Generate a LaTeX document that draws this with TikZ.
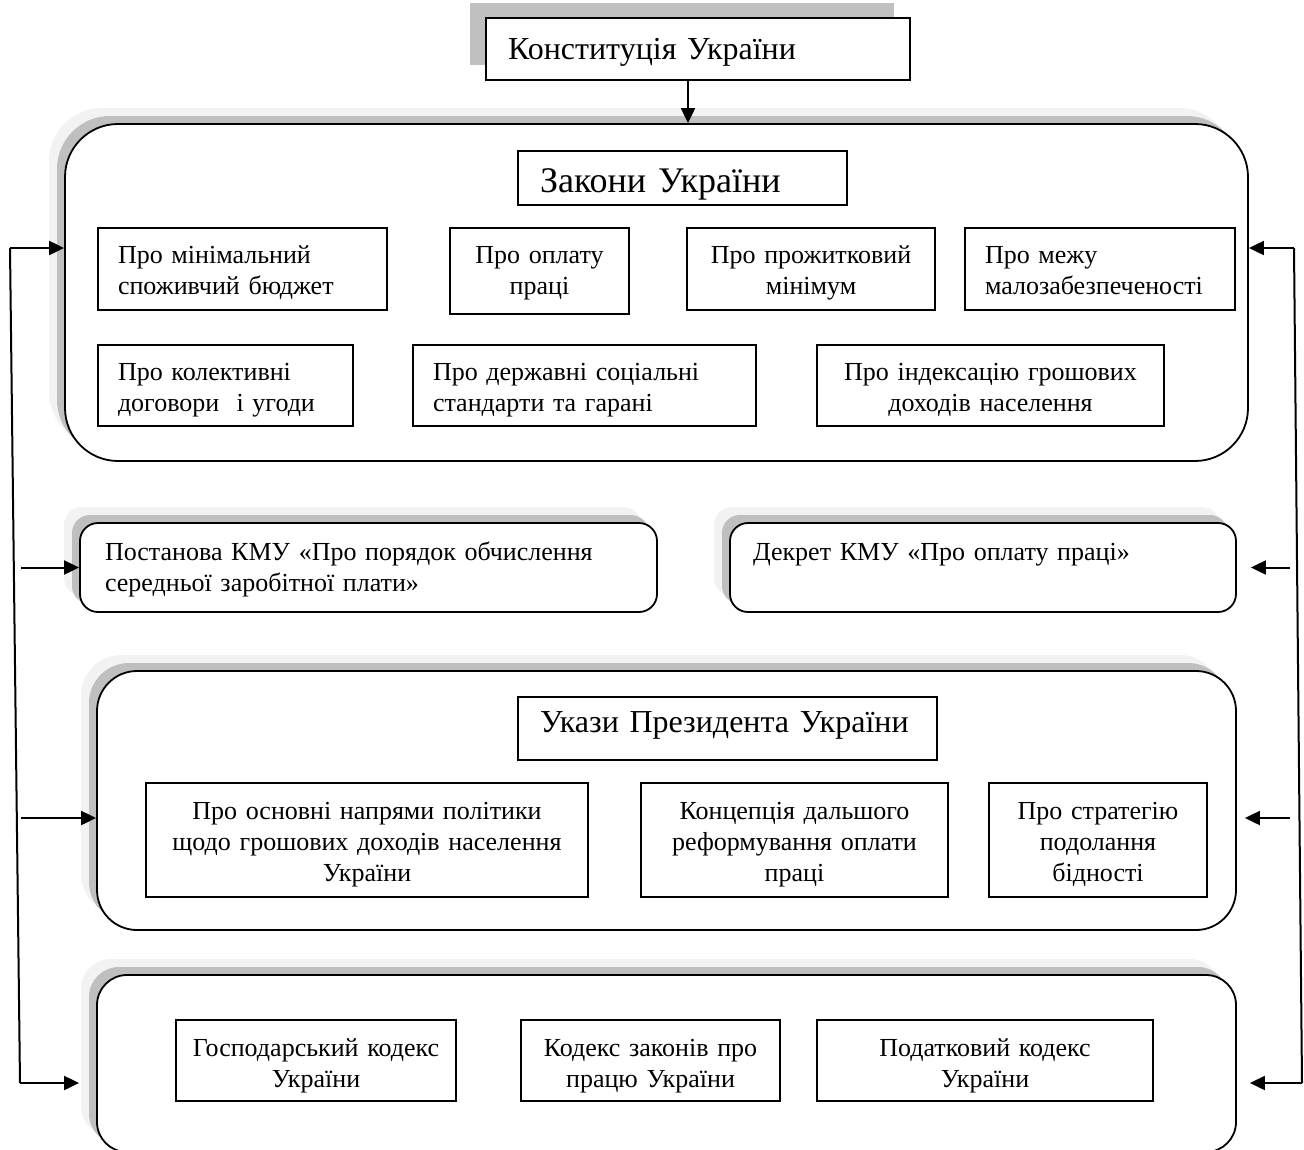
\documentclass[tikz,border=0pt]{standalone}
\usepackage{fontspec}
\setmainfont{Liberation Serif}
\usetikzlibrary{arrows.meta,calc}
\definecolor{shadeDark}{HTML}{BFBFBF}
\definecolor{shadeLight}{HTML}{F2F2F2}
\definecolor{shadeTitle}{HTML}{C0C0C0}
% extra height above the first line / depth below the last line of a box text
\newlength\textdrop
\newlength\textlift
\begin{document}
\begin{tikzpicture}[x=1pt,y=-1pt,
  every node/.style={font=\fontsize{26}{31}\selectfont},
  textdrop/.code={\setlength\textdrop{#1}},
  textlift/.code={\setlength\textlift{#1}},
  % large rounded group frames with a two-tone shadow to the upper left
  frame/.style={draw, line width=1.8pt, rounded corners=#1, fill=white, inner sep=0pt,
    preaction={fill=shadeLight, draw=none, transform canvas={xshift=-16pt,yshift=16pt}},
    preaction={fill=shadeDark, draw=none, transform canvas={xshift=-8pt,yshift=8pt}}},
  % plain rectangular boxes
  pbox/.style={draw, line width=1.8pt, fill=white, inner ysep=0pt,
    textdrop=8pt, textlift=0pt,
    execute at begin node={\rule{0pt}{\dimexpr\ht\strutbox+\textdrop\relax}},
    execute at end node={\rule[-\dimexpr\dp\strutbox+\textlift\relax]{0pt}{1pt}}},
  lbox/.style={pbox, align=left, inner xsep=20pt},
  cbox/.style={pbox, align=center, inner xsep=4pt},
  title/.style={font=\fontsize{32}{38}\selectfont},
  arr/.style={line width=2pt, -{Triangle[length=15pt,width=14pt]}},
  link/.style={line width=2pt}
]
\useasboundingbox (0,0) rectangle (1304,1149);
\clip (0,0) rectangle (1304,1149);

% Constitution
\node[pbox, title, align=left, inner xsep=22pt, text width=380pt, minimum height=62pt,
  textdrop=6pt,
  preaction={fill=shadeTitle, draw=none, transform canvas={xshift=-16pt,yshift=15pt}}]
  (const) at (698,49) {Конституція України};

% Laws of Ukraine
\node[frame=53, minimum width=1183pt, minimum height=337pt] (laws) at (656.5,292.5) {};
\node[pbox, font=\fontsize{36}{42}\selectfont, align=left, inner xsep=22pt, text width=285pt,
  minimum height=54pt, textdrop=12pt] (lawsT) at (682.5,178) {Закони України};
\node[lbox, text width=249pt, minimum height=82pt] (l1) at (242.5,269)
  {Про мінімальний\\споживчий бюджет};
\node[cbox, text width=171pt, minimum height=86pt, textdrop=4pt] (l2) at (539.5,271)
  {Про оплату\\праці};
\node[cbox, text width=240pt, minimum height=82pt] (l3) at (811,269)
  {Про прожитковий\\мінімум};
\node[lbox, text width=230pt, minimum height=82pt] (l4) at (1100,269)
  {Про межу\\малозабезпеченості};
\node[lbox, text width=215pt, minimum height=81pt] (l5) at (225.5,385.5)
  {Про колективні\\договори \ і угоди};
\node[lbox, text width=303pt, minimum height=81pt] (l6) at (584.5,385.5)
  {Про державні соціальні\\стандарти та гарані};
\node[cbox, text width=339pt, minimum height=81pt] (l7) at (990.5,385.5)
  {Про індексацію грошових\\доходів населення};

% Cabinet of Ministers acts
\node[frame=18, lbox, line width=1.8pt, inner xsep=25pt, text width=527pt, minimum height=89pt,
  textdrop=5pt] (post) at (368.5,567.5)
  {Постанова КМУ «Про порядок обчислення\\середньої заробітної плати»};
\node[frame=18, lbox, line width=1.8pt, inner xsep=23pt, text width=460pt, minimum height=89pt,
  textdrop=5pt] (dekr) at (983,567.5)
  {Декрет КМУ «Про оплату праці»\\\mbox{}};

% Presidential decrees
\node[frame=40, minimum width=1139pt, minimum height=259pt] (pres) at (666.5,800.5) {};
\node[pbox, title, align=left, inner xsep=22pt, text width=375pt, minimum height=63pt,
  textdrop=0pt, textlift=8pt] (presT) at (727.5,728.5) {Укази Президента України};
\node[cbox, text width=434pt, minimum height=114pt] (p1) at (367,840)
  {Про основні напрями політики\\щодо грошових доходів населення\\України};
\node[cbox, text width=299pt, minimum height=114pt] (p2) at (794.5,840)
  {Концепція дальшого\\реформування оплати\\праці};
\node[cbox, text width=210pt, minimum height=114pt] (p3) at (1098,840)
  {Про стратегію\\подолання\\бідності};

% Codes
\node[frame=30, minimum width=1139pt, minimum height=177pt] (codes) at (666.5,1063.5) {};
\node[cbox, text width=272pt, minimum height=81pt, textdrop=10pt] (c1) at (316,1060.5)
  {Господарський кодекс\\України};
\node[cbox, text width=251pt, minimum height=81pt, textdrop=10pt] (c2) at (650.5,1060.5)
  {Кодекс законів про\\працю України};
\node[cbox, text width=328pt, minimum height=81pt, textdrop=10pt] (c3) at (985,1060.5)
  {Податковий кодекс\\України};

% Connectors
\draw[arr] ([xshift=-10pt]const.south) -- ([xshift=-10pt]const.south |- laws.north);

\coordinate (Ltop) at (10,248);
\coordinate (Lbot) at (20,1083);
\coordinate (Lpost) at (21,567.5);
\coordinate (Lpres) at (21,818);
\draw[link] (Ltop) -- (Lbot);
\draw[arr] (Ltop) -- (laws.west |- Ltop);
\draw[arr] (Lpost) -- (post.west);
\draw[arr] (Lpres) -- (pres.west |- Lpres);
\draw[arr] (Lbot) -- ([xshift=-17pt]codes.west |- Lbot);

\coordinate (Rtop) at (1294,248);
\coordinate (Rbot) at (1302,1083);
\coordinate (Rdekr) at (1290,567.5);
\coordinate (Rpres) at (1290,818);
\draw[link] (Rtop) -- (Rbot);
\draw[arr] (Rtop) -- (laws.east |- Rtop);
\draw[arr] (Rdekr) -- ([xshift=14pt]dekr.east);
\draw[arr] (Rpres) -- ([xshift=8pt]pres.east |- Rpres);
\draw[arr] (Rbot) -- ([xshift=13pt]codes.east |- Rbot);
\end{tikzpicture}
\end{document}
